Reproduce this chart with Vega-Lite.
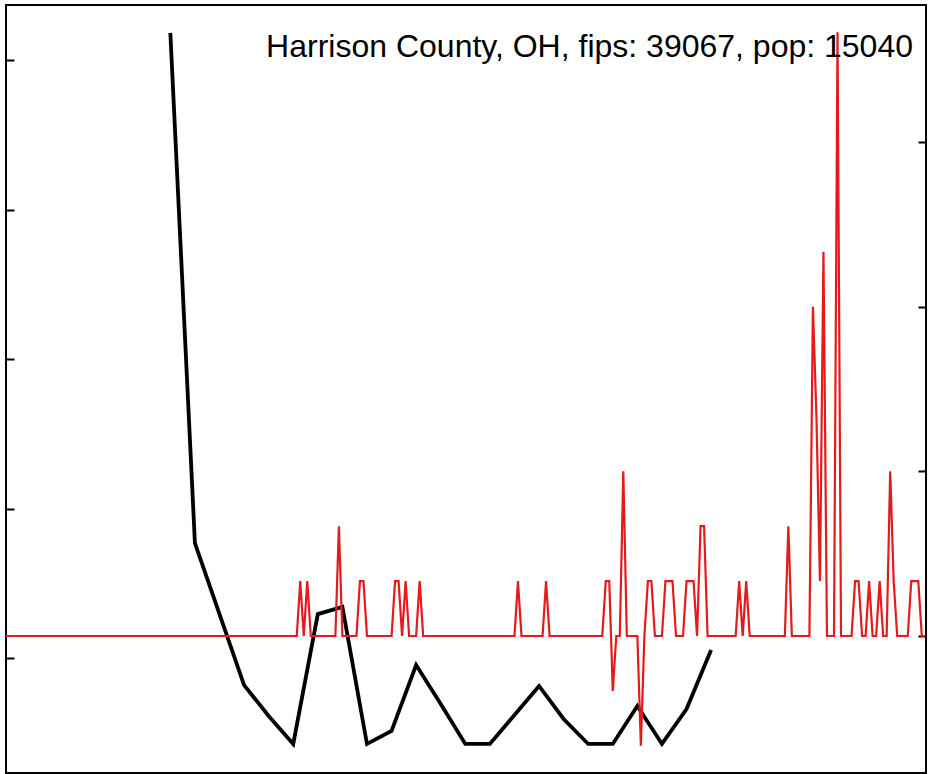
{
"$schema": "https://vega.github.io/schema/vega-lite/v6.json",
"width": 920, "height": 768,
"autosize": {"type": "none"},
"padding": {"left": 6, "top": 5, "right": 2, "bottom": 1},
"background": "white",
"config": {
  "view": {"stroke": "black", "strokeWidth": 2},
  "axis": {"domain": false, "labels": false, "grid": false, "ticks": true, "tickColor": "black", "tickWidth": 2, "tickSize": -8}
},
"title": {"text": "Harrison County, OH, fips: 39067, pop: 15040", "anchor": "end", "frame": "group", "orient": "top", "offset": -84, "dx": -13, "fontSize": 32, "font": "Liberation Sans", "fontWeight": "normal", "color": "black", "baseline": "alphabetic"},
"datasets": {
"black": [
{"d":47,"v":5.181},{"d":54,"v":1.769},{"d":61,"v":1.294},{"d":68,"v":0.819},{"d":75,"v":0.612},{"d":82,"v":0.425},{"d":89,"v":1.294},{"d":96,"v":1.341},{"d":103,"v":0.425},{"d":110,"v":0.512},{"d":117,"v":0.953},{"d":124,"v":0.692},{"d":131,"v":0.425},{"d":138,"v":0.425},{"d":145,"v":0.619},{"d":152,"v":0.813},{"d":159,"v":0.592},{"d":166,"v":0.425},{"d":173,"v":0.425},{"d":180,"v":0.679},{"d":187,"v":0.425},{"d":194,"v":0.659},{"d":201,"v":1.054}
],
"red": [
{"d":0,"v":0},{"d":1,"v":0},{"d":2,"v":0},{"d":3,"v":0},{"d":4,"v":0},{"d":5,"v":0},{"d":6,"v":0},{"d":7,"v":0},{"d":8,"v":0},{"d":9,"v":0},
{"d":10,"v":0},{"d":11,"v":0},{"d":12,"v":0},{"d":13,"v":0},{"d":14,"v":0},{"d":15,"v":0},{"d":16,"v":0},{"d":17,"v":0},{"d":18,"v":0},{"d":19,"v":0},
{"d":20,"v":0},{"d":21,"v":0},{"d":22,"v":0},{"d":23,"v":0},{"d":24,"v":0},{"d":25,"v":0},{"d":26,"v":0},{"d":27,"v":0},{"d":28,"v":0},{"d":29,"v":0},
{"d":30,"v":0},{"d":31,"v":0},{"d":32,"v":0},{"d":33,"v":0},{"d":34,"v":0},{"d":35,"v":0},{"d":36,"v":0},{"d":37,"v":0},{"d":38,"v":0},{"d":39,"v":0},
{"d":40,"v":0},{"d":41,"v":0},{"d":42,"v":0},{"d":43,"v":0},{"d":44,"v":0},{"d":45,"v":0},{"d":46,"v":0},{"d":47,"v":0},{"d":48,"v":0},{"d":49,"v":0},
{"d":50,"v":0},{"d":51,"v":0},{"d":52,"v":0},{"d":53,"v":0},{"d":54,"v":0},{"d":55,"v":0},{"d":56,"v":0},{"d":57,"v":0},{"d":58,"v":0},{"d":59,"v":0},
{"d":60,"v":0},{"d":61,"v":0},{"d":62,"v":0},{"d":63,"v":0},{"d":64,"v":0},{"d":65,"v":0},{"d":66,"v":0},{"d":67,"v":0},{"d":68,"v":0},{"d":69,"v":0},
{"d":70,"v":0},{"d":71,"v":0},{"d":72,"v":0},{"d":73,"v":0},{"d":74,"v":0},{"d":75,"v":0},{"d":76,"v":0},{"d":77,"v":0},{"d":78,"v":0},{"d":79,"v":0},
{"d":80,"v":0},{"d":81,"v":0},{"d":82,"v":0},{"d":83,"v":0},{"d":84,"v":1},{"d":85,"v":0},{"d":86,"v":1},{"d":87,"v":0},{"d":88,"v":0},{"d":89,"v":0},
{"d":90,"v":0},{"d":91,"v":0},{"d":92,"v":0},{"d":93,"v":0},{"d":94,"v":0},{"d":95,"v":2},{"d":96,"v":0},{"d":97,"v":0},{"d":98,"v":0},{"d":99,"v":0},
{"d":100,"v":0},{"d":101,"v":1},{"d":102,"v":1},{"d":103,"v":0},{"d":104,"v":0},{"d":105,"v":0},{"d":106,"v":0},{"d":107,"v":0},{"d":108,"v":0},{"d":109,"v":0},
{"d":110,"v":0},{"d":111,"v":1},{"d":112,"v":1},{"d":113,"v":0},{"d":114,"v":1},{"d":115,"v":0},{"d":116,"v":0},{"d":117,"v":0},{"d":118,"v":1},{"d":119,"v":0},
{"d":120,"v":0},{"d":121,"v":0},{"d":122,"v":0},{"d":123,"v":0},{"d":124,"v":0},{"d":125,"v":0},{"d":126,"v":0},{"d":127,"v":0},{"d":128,"v":0},{"d":129,"v":0},
{"d":130,"v":0},{"d":131,"v":0},{"d":132,"v":0},{"d":133,"v":0},{"d":134,"v":0},{"d":135,"v":0},{"d":136,"v":0},{"d":137,"v":0},{"d":138,"v":0},{"d":139,"v":0},
{"d":140,"v":0},{"d":141,"v":0},{"d":142,"v":0},{"d":143,"v":0},{"d":144,"v":0},{"d":145,"v":0},{"d":146,"v":1},{"d":147,"v":0},{"d":148,"v":0},{"d":149,"v":0},
{"d":150,"v":0},{"d":151,"v":0},{"d":152,"v":0},{"d":153,"v":0},{"d":154,"v":1},{"d":155,"v":0},{"d":156,"v":0},{"d":157,"v":0},{"d":158,"v":0},{"d":159,"v":0},
{"d":160,"v":0},{"d":161,"v":0},{"d":162,"v":0},{"d":163,"v":0},{"d":164,"v":0},{"d":165,"v":0},{"d":166,"v":0},{"d":167,"v":0},{"d":168,"v":0},{"d":169,"v":0},
{"d":170,"v":0},{"d":171,"v":1},{"d":172,"v":1},{"d":173,"v":-1},{"d":174,"v":0},{"d":175,"v":0},{"d":176,"v":3},{"d":177,"v":0},{"d":178,"v":0},{"d":179,"v":0},
{"d":180,"v":0},{"d":181,"v":-2},{"d":182,"v":0},{"d":183,"v":1},{"d":184,"v":1},{"d":185,"v":0},{"d":186,"v":0},{"d":187,"v":0},{"d":188,"v":1},{"d":189,"v":1},
{"d":190,"v":1},{"d":191,"v":0},{"d":192,"v":0},{"d":193,"v":0},{"d":194,"v":1},{"d":195,"v":1},{"d":196,"v":1},{"d":197,"v":0},{"d":198,"v":2},{"d":199,"v":2},
{"d":200,"v":0},{"d":201,"v":0},{"d":202,"v":0},{"d":203,"v":0},{"d":204,"v":0},{"d":205,"v":0},{"d":206,"v":0},{"d":207,"v":0},{"d":208,"v":0},{"d":209,"v":1},
{"d":210,"v":0},{"d":211,"v":1},{"d":212,"v":0},{"d":213,"v":0},{"d":214,"v":0},{"d":215,"v":0},{"d":216,"v":0},{"d":217,"v":0},{"d":218,"v":0},{"d":219,"v":0},
{"d":220,"v":0},{"d":221,"v":0},{"d":222,"v":0},{"d":223,"v":2},{"d":224,"v":0},{"d":225,"v":0},{"d":226,"v":0},{"d":227,"v":0},{"d":228,"v":0},{"d":229,"v":0},
{"d":230,"v":6},{"d":231,"v":4},{"d":232,"v":1},{"d":233,"v":7},{"d":234,"v":0},{"d":235,"v":0},{"d":236,"v":0},{"d":237,"v":11},{"d":238,"v":0},{"d":239,"v":0},
{"d":240,"v":0},{"d":241,"v":0},{"d":242,"v":1},{"d":243,"v":1},{"d":244,"v":0},{"d":245,"v":0},{"d":246,"v":1},{"d":247,"v":0},{"d":248,"v":0},{"d":249,"v":1},
{"d":250,"v":0},{"d":251,"v":0},{"d":252,"v":3},{"d":253,"v":1},{"d":254,"v":0},{"d":255,"v":0},{"d":256,"v":0},{"d":257,"v":0},{"d":258,"v":1},{"d":259,"v":1},
{"d":260,"v":1},{"d":261,"v":0},{"d":262,"v":0}
]
},
"layer": [
{
  "data": {"name": "black"},
  "mark": {"type": "line", "color": "black", "strokeWidth": 3.8, "clip": true},
  "encoding": {
    "x": {"field": "d", "type": "quantitative", "scale": {"domain": [0.2, 262.2], "nice": false, "zero": false}, "axis": {"orient": "bottom", "values": [39, 100, 161, 223], "title": null}},
    "y": {"field": "v", "type": "quantitative", "scale": {"domain": [0.2308, 5.3679], "nice": false, "zero": false}, "axis": {"orient": "left", "values": [1, 2, 3, 4, 5], "title": null}}
  }
},
{
  "data": {"name": "red"},
  "mark": {"type": "line", "color": "#e41a1c", "strokeWidth": 2.2, "clip": true},
  "encoding": {
    "x": {"field": "d", "type": "quantitative", "scale": {"domain": [0.2, 262.2], "nice": false, "zero": false}, "axis": null},
    "y": {"field": "v", "type": "quantitative", "scale": {"domain": [-2.496, 11.496], "nice": false, "zero": false}, "axis": {"orient": "right", "values": [0, 3, 6, 9], "title": null}}
  }
}
],
"resolve": {"scale": {"y": "independent"}}
}
